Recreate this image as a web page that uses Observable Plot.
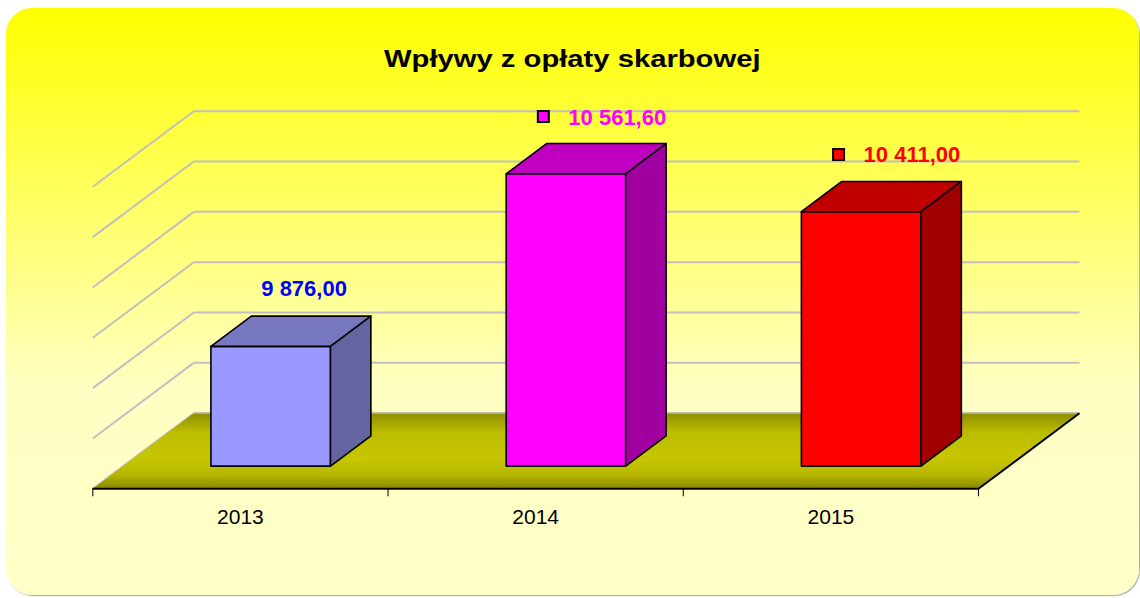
<!DOCTYPE html>
<html><head><meta charset="utf-8">
<script src="https://cdn.jsdelivr.net/npm/d3@7"></script>
<script src="https://cdn.jsdelivr.net/npm/@observablehq/plot@0.6"></script>
<style>
html,body{margin:0;padding:0;background:#fff;}
#wrap{position:relative;width:1140px;height:598px;overflow:hidden;font-family:"Liberation Sans",Arial,sans-serif;}
#panel{position:absolute;left:6px;top:8px;width:1133px;height:587px;border-radius:26px;
  background:linear-gradient(to bottom,#ffff00 0%,#ffffc4 65%,#ffffc8 100%);box-shadow:1px 1px 1px rgba(0,0,0,0.35);}
#title{position:absolute;left:6px;width:1133px;top:46px;text-align:center;line-height:normal;}
#title span{display:inline-block;font-weight:bold;font-size:23px;color:#000;transform:scaleX(1.27);transform-origin:center;}
#chart{position:absolute;left:0;top:0;}
</style></head><body>
<div id="wrap"><div id="panel"></div><div id="title"><span>Wpływy z opłaty skarbowej</span></div><div id="chart"></div></div>
<script>
// ---- data ----
const years = ["2013", "2014", "2015"];
const values = [9876.00, 10561.60, 10411.00];
const valueLabels = ["9 876,00", "10 561,60", "10 411,00"];
const showKey = [false, true, true];
const gridValues = [9400, 9600, 9800, 10000, 10200, 10400, 10600];

// ---- styles ----
const frontColors = ["#9999ff", "#ff00ff", "#ff0000"];
const topColors = ["#7878c0", "#c000c0", "#c00000"];
const sideColors = ["#6464a0", "#a000a0", "#a00000"];
const labelColors = ["#0000ff", "#ff00ff", "#ff0000"];

// 3D geometry (depth vector expressed in scale units)
const BASE = gridValues[0], TOP = gridValues[gridValues.length - 1];
const DX = 0.342, DY = 300.4;
const W = 0.405, D0 = 0.3, D1 = 0.7;
const P = (x, v, d) => ({x: x + d * DX, y: v + d * DY});

const polys = [];
years.forEach((yr, i) => {
  const v = values[i], x0 = i + 0.5 - W / 2, x1 = i + 0.5 + W / 2;
  const add = (face, color, pts) => pts.forEach(p => polys.push({id: yr + face, fill: color, ...p}));
  add("front", frontColors[i], [P(x0, BASE, D0), P(x1, BASE, D0), P(x1, v, D0), P(x0, v, D0)]);
  add("top", topColors[i], [P(x0, v, D0), P(x1, v, D0), P(x1, v, D1), P(x0, v, D1)]);
  add("side", sideColors[i], [P(x1, BASE, D0), P(x1, BASE, D1), P(x1, v, D1), P(x1, v, D0)]);
});
const n = years.length;
const floor = [P(0, BASE, 0), P(n, BASE, 0), P(n, BASE, 1), P(0, BASE, 1)];

const labels = years.map((yr, i) => ({
  i, key: showKey[i], text: valueLabels[i], color: labelColors[i], keyFill: frontColors[i],
  ...P(i + 0.5, values[i], D1)
}));

const plot = Plot.plot({
  width: 1140,
  height: 598,
  margin: 0,
  x: {domain: [0, n], range: [92.3, 978], axis: null},
  y: {domain: [BASE, TOP], range: [488.3, 186.3], axis: null},
  color: {type: "identity"},
  style: {background: "transparent", fontFamily: "'Liberation Sans', Arial, sans-serif", overflow: "visible"},
  marks: [
    // back wall gridlines
    Plot.link(gridValues, {x1: () => DX, x2: () => n + DX, y1: g => g + DY, y2: g => g + DY,
      stroke: "#c0c0c0", strokeWidth: 2}),
    // side wall gridlines
    Plot.link(gridValues, {x1: () => 0, x2: () => DX, y1: g => g, y2: g => g + DY,
      stroke: "#c0c0c0", strokeWidth: 2}),
    // floor
    Plot.line(floor, {x: "x", y: "y", curve: "linear-closed", fill: "url(#floorGrad)", stroke: "none"}),
    Plot.link([0], {x1: () => DX, x2: () => n + DX, y1: () => BASE + DY, y2: () => BASE + DY,
      stroke: "#b0b090", strokeWidth: 1.5}),
    Plot.link([0], {x1: () => 0, x2: () => n, y1: () => BASE, y2: () => BASE, stroke: "#000", strokeWidth: 2}),
    Plot.link([0], {x1: () => n, x2: () => n + DX, y1: () => BASE, y2: () => BASE + DY, stroke: "#000", strokeWidth: 2}),
    // ticks
    Plot.ruleX(d3.range(n + 1), {x: d => d, y1: () => BASE, y2: () => BASE, insetBottom: -8, stroke: "#000", strokeWidth: 1}),
    // category labels
    Plot.text(years, {x: (d, i) => i + 0.5, y: () => BASE, text: d => d, dy: 28, fontSize: 21, fill: "#000"}),
    // bars
    Plot.line(polys, {x: "x", y: "y", z: "id", fill: "fill", stroke: "#000", strokeWidth: 1.6,
      strokeLinejoin: "round", curve: "linear-closed"}),
    // value labels
    Plot.text(labels.filter(d => !d.key), {x: "x", y: "y", text: "text", fill: "color", dx: -7, dy: -27,
      fontSize: 22, fontWeight: "bold", textAnchor: "middle"}),
    Plot.text(labels.filter(d => d.key), {x: "x", y: "y", text: "text", fill: "color", dx: -38, dy: -26,
      fontSize: 22, fontWeight: "bold", textAnchor: "start"}),
    Plot.dot(labels.filter(d => d.key), {x: "x", y: "y", fill: "keyFill", symbol: "square", r: 6.2,
      stroke: "#000", strokeWidth: 2, dx: -63, dy: -27})
  ]
});

// gradient definition for the floor
const ns = "http://www.w3.org/2000/svg";
const defs = document.createElementNS(ns, "defs");
const grad = document.createElementNS(ns, "linearGradient");
grad.setAttribute("id", "floorGrad");
grad.setAttribute("x1", "0"); grad.setAttribute("y1", "0");
grad.setAttribute("x2", "0"); grad.setAttribute("y2", "1");
[[0, "#8e8e00"], [0.25, "#bcbc00"], [0.6, "#c6c600"], [0.82, "#b6b600"], [1, "#878700"]].forEach(([o, c]) => {
  const s = document.createElementNS(ns, "stop");
  s.setAttribute("offset", o); s.setAttribute("stop-color", c);
  grad.appendChild(s);
});
defs.appendChild(grad);
plot.insertBefore(defs, plot.firstChild);

document.getElementById("chart").appendChild(plot);
</script>
</body></html>
